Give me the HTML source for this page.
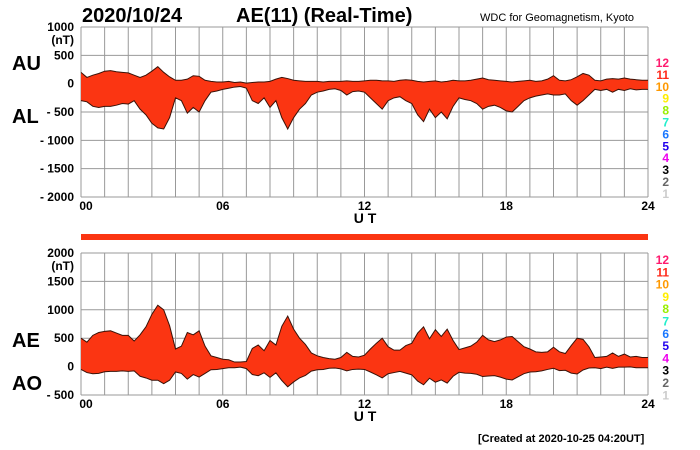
<!DOCTYPE html>
<html><head><meta charset="utf-8"><style>
body{margin:0;background:#fff}
svg{display:block;font-family:"Liberation Sans",sans-serif}
</style></head><body>
<svg id="c" width="700" height="450" xmlns="http://www.w3.org/2000/svg">
<text x="82" y="22" font-size="20" font-weight="bold">2020/10/24</text>
<text x="236" y="22" font-size="20" font-weight="bold">AE(11) (Real-Time)</text>
<text x="480" y="21" font-size="11">WDC for Geomagnetism, Kyoto</text>
<text x="12" y="70" font-size="20" font-weight="bold">AU</text>
<text x="12" y="123" font-size="20" font-weight="bold">AL</text>
<text x="12" y="347" font-size="20" font-weight="bold">AE</text>
<text x="12" y="390" font-size="20" font-weight="bold">AO</text>
<text x="478" y="442" font-size="11" font-weight="bold">[Created at 2020-10-25 04:20UT]</text>
<g id="g"></g>
</svg>
<script>
const hours=[];for(let i=0;i<=96;i++)hours.push(i/4);
const auValues=[200,110,150,180,220,230,210,200,190,150,110,150,220,300,200,120,60,60,80,140,130,60,40,30,
30,40,20,30,10,20,30,30,40,80,110,90,60,50,40,40,40,30,40,40,40,50,40,40,
50,60,60,50,50,40,60,70,60,40,30,40,50,30,40,60,50,50,60,80,100,70,60,50,
40,30,40,50,60,40,50,80,140,60,50,70,120,180,150,60,50,80,90,80,100,80,70,60,60];
const alValues=[-300,-320,-400,-420,-400,-400,-380,-350,-360,-300,-450,-550,-700,-780,-800,-600,-250,-300,-520,-420,-500,-300,-150,-130,
-100,-80,-60,-50,-80,-300,-350,-250,-420,-300,-600,-800,-600,-450,-350,-200,-150,-130,-100,-90,-120,-200,-140,-130,
-150,-250,-350,-450,-300,-250,-230,-300,-350,-550,-670,-450,-600,-500,-620,-400,-250,-280,-300,-350,-450,-400,-380,-420,
-480,-500,-400,-300,-250,-220,-200,-180,-200,-200,-180,-300,-380,-300,-200,-100,-120,-100,-150,-100,-120,-90,-110,-100,-100];
const topTicks=["1000","500","0","- 500","- 1000","- 1500","- 2000"];
const botTicks=["2000","1500","1000","500","0","- 500"];
const xTicks=["00","06","12","18","24"];
const legendNums=["12","11","10","9","8","7","6","5","4","3","2","1"];
const legendColors=["#ff1a6e","#ff2a1a","#ff9900","#ffee00","#99ee00","#22eecc","#1a77ff","#2200ee","#ee00ee","#000","#666","#ccc"];

const NS="http://www.w3.org/2000/svg",g=document.getElementById('g');
function mk(t,a,p){const e=document.createElementNS(NS,t);for(const k in a)e.setAttribute(k,a[k]);(p||g).appendChild(e);return e;}
const X0=81,X1=648;
const xs=h=>X0+(X1-X0)*h/24;
function panel(top,bot,vmax,vmin,ticks,upper,lower,name,legTop,legStep){
  const ys=v=>top+(vmax-v)/(vmax-vmin)*(bot-top);
  for(let h=0;h<=24;h+=1){const l=mk('line',{x1:xs(h),x2:xs(h),y1:top,y2:bot,stroke:'#999','stroke-width':1});
    }
  for(let v=vmax;v>=vmin;v-=500){const l=mk('line',{x1:X0,x2:X1,y1:ys(v),y2:ys(v),stroke:'#999','stroke-width':1});
    }
  let pts=hours.map((h,i)=>xs(h)+','+ys(upper[i]));
  let pts2=hours.map((h,i)=>xs(h)+','+ys(lower[i])).reverse();
  const p=mk('polygon',{points:pts.concat(pts2).join(' '),fill:'#fb3512',stroke:'none'});
  
  const a=mk('polyline',{points:pts.join(' '),fill:'none',stroke:'#3a1208','stroke-width':1});
  
  const b=mk('polyline',{points:pts2.join(' '),fill:'none',stroke:'#3a1208','stroke-width':1});
  
  ticks.forEach((t,i)=>{const v=vmax-500*i;const e=mk('text',{x:74,y:ys(v)+4,'font-size':12,'font-weight':'bold','text-anchor':'end'});
    e.textContent=t;});
  const u=mk('text',{x:74,y:top+17,'font-size':12,'font-weight':'bold','text-anchor':'end'});u.textContent='(nT)';
  
  xTicks.forEach((t,i)=>{const e=mk('text',{x:xs(i*6)+(i==0?5:0),y:bot+13,'font-size':12,'font-weight':'bold','text-anchor':'middle'});
    e.textContent=t;});
  const ut=mk('text',{x:365,y:bot+26,'font-size':14,'font-weight':'bold','text-anchor':'middle'});ut.textContent='U T';
  
  legendNums.forEach((n,i)=>{const e=mk('text',{x:669,y:legTop+i*legStep,'font-size':12,'font-weight':'bold','text-anchor':'end',fill:legendColors[i]});
    e.textContent=n;});
}
panel(27,197,1000,-2000,topTicks,auValues,alValues,'au-al',67,11.9);
const aeValues=auValues.map((v,i)=>v-alValues[i]);
const aoValues=auValues.map((v,i)=>(v+alValues[i])/2);
panel(253,395,2000,-500,botTicks,aeValues,aoValues,'ae-ao',264,12.3);
const s=mk('rect',{x:X0,y:234,width:X1-X0,height:6,fill:'#fb3512'});

</script>
</body></html>
